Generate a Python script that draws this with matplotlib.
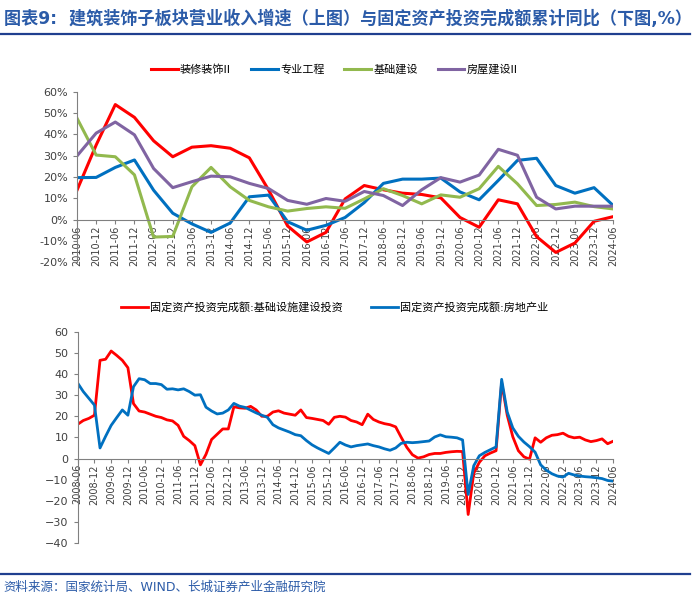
import matplotlib
matplotlib.use('Agg')
import matplotlib.pyplot as plt
from matplotlib.lines import Line2D
import numpy as np
import pandas as pd

plt.rcParams['font.family'] = ['DejaVu Sans', 'Noto Sans CJK SC']

# ---- top chart: half-year revenue growth (%) ----
top_labels = ['2010-06', '2010-12', '2011-06', '2011-12', '2012-06', '2012-12',
              '2013-06', '2013-12', '2014-06', '2014-12', '2015-06', '2015-12',
              '2016-06', '2016-12', '2017-06', '2017-12', '2018-06', '2018-12',
              '2019-06', '2019-12', '2020-06', '2020-12', '2021-06', '2021-12',
              '2022-06', '2022-12', '2023-06', '2023-12', '2024-06']
zhuangxiu = [13.8, 35, 54, 48, 37, 29.5, 34, 34.7, 33.5, 29, 14, -3, -10.5, -6, 9.7,
             16, 14, 12.4, 11.8, 10.2, 1, -3.6, 9.3, 7.4, -8, -15.4, -11, -0.8, 1.4]
zhuanye = [19.7, 19.8, 24.5, 28, 13.8, 3, -2, -6, -1.6, 10.7, 11.5, -1, -5, -2.7, 1,
           8, 17, 19, 19, 19.5, 13, 9.3, 18.4, 27.8, 28.8, 16, 12.4, 15, 6.6]
jichu = [47.6, 30.3, 29.5, 21, -8.2, -7.9, 15.4, 24.5, 15.4, 9, 6, 4, 5.2, 6, 5.3,
         9.7, 14.5, 11.3, 7.4, 11.6, 10.5, 14.5, 25, 16.8, 6.6, 7.1, 8.2, 6.1, 5]
fangwu = [29.9, 40.6, 45.8, 39.8, 24, 15, 17.8, 20.4, 20.1, 17, 14.6, 9, 7.2, 9.9, 8.6,
          13.2, 11.3, 6.6, 14, 19.7, 17.6, 20.9, 33, 30.2, 10.5, 5, 6.3, 6.3, 6.3]

# ---- bottom chart: FAI cumulative yoy, read every two months ----
bot_dates = pd.date_range('2008-06-01', '2024-06-01', freq='2MS')
infra = [16.2, 18, 19, 20.5, 46.5, 47, 50.9, 48.8, 46.5, 43,            # 2008-06 .. 2009-12
         26, 22.5, 22, 21, 20, 19.4,                                    # 2010
         18.3, 17.8, 15.7, 10.5, 8.5, 6.1,                              # 2011
         -3, 2, 9, 11.5, 14, 14,                                        # 2012
         24.5, 24, 23.8, 24.7, 23, 20,                                  # 2013
         20, 22, 22.6, 21.5, 21, 20.5,                                  # 2014
         23, 19.4, 19, 18.5, 18, 16.2,                                  # 2015
         19.5, 20, 19.6, 18, 17.3, 16,                                  # 2016
         21, 18.5, 17.3, 16.5, 16, 15,                                  # 2017
         10, 5.3, 1.8, 0.2, 0.8, 1.9,                                   # 2018
         2.4, 2.4, 2.9, 3.2, 3.4, 3.3,                                  # 2019
         -26.5, -7, -1.8, 1.3, 2.6, 3.7,                                # 2020
         36, 20.5, 10.3, 3.7, 0.8, -0.3,                                # 2021
         9.8, 7.7, 9.8, 11, 11.3, 12,                                   # 2022
         10.5, 9.8, 10.1, 8.8, 8, 8.5,                                  # 2023
         9.3, 7, 8.2]                                                   # 2024
realty = [35.7, 31.7, 28.5, 25.3, 5, 10.5, 15.7, 19.4, 23, 20.5,
          34, 37.8, 37.3, 35.5, 35.5, 35,
          32.8, 33, 32.5, 33, 31.7, 30,
          30.2, 24.3, 22.5, 21.1, 21.5, 23,
          26.1, 24.8, 24.2, 22.9, 21.6, 20.5,
          19.5, 16, 14.5, 13.5, 12.5, 11.3,
          10.8, 8.5, 6.5, 5, 3.7, 2.4,
          5, 7.7, 6.4, 5.5, 6.1, 6.5,
          6.9, 6.1, 5.5, 4.6, 3.9, 5,
          7.2, 7.7, 7.5, 7.7, 8, 8.3,
          10.2, 11.2, 10.3, 10.1, 9.8, 8.8,
          -17, -3.4, 1.3, 2.9, 4.2, 5.5,
          37.5, 22, 14.5, 10.5, 7.8, 5.6,
          3, -3, -5.5, -7.2, -8.3, -8.8,
          -7, -7.8, -8.3, -8.6, -8.8, -9.1,
          -9.5, -10.4, -10.7]
bot_ticks = pd.date_range('2008-06-01', '2024-06-01', freq='6MS')

title_color = '#2B5BA8'
rule_color = '#1F3F8F'
axis_color = '#808080'
tick_color = '#404040'

fig = plt.figure(figsize=(7, 6), dpi=100)

fig.text(0.005, 0.968, '图表9:  建筑装饰子板块营业收入增速（上图）与固定资产投资完成额累计同比（下图,%）',
         color=title_color, fontsize=12.3, fontweight='bold', va='center', ha='left')
fig.add_artist(Line2D([0, 0.985], [0.943, 0.943], color=rule_color, lw=1.6,
                      transform=fig.transFigure))
fig.add_artist(Line2D([0, 0.985], [0.043, 0.043], color=rule_color, lw=1.6,
                      transform=fig.transFigure))
fig.text(0.005, 0.022, '资料来源：国家统计局、WIND、长城证券产业金融研究院',
         color=title_color, fontsize=9, va='center', ha='left')


def style_axes(ax):
    for s in ['top', 'right']:
        ax.spines[s].set_visible(False)
    ax.spines['left'].set_color(axis_color)
    ax.spines['bottom'].set_color(axis_color)
    ax.spines['bottom'].set_position(('data', 0))
    ax.tick_params(axis='y', colors=axis_color, labelcolor=tick_color,
                   labelsize=8, length=3, direction='out')
    ax.tick_params(axis='x', colors=axis_color, labelcolor=tick_color,
                   labelsize=7, length=3, direction='out', pad=1, labelrotation=90)


# top
ax1 = fig.add_axes([0.110, 0.563, 0.766, 0.284])
x = np.arange(len(top_labels))
ax1.plot(x, zhuangxiu, color='#FF0000', lw=2.2, label='装修装饰II')
ax1.plot(x, zhuanye, color='#0070C0', lw=2.2, label='专业工程')
ax1.plot(x, jichu, color='#92B94E', lw=2.2, label='基础建设')
ax1.plot(x, fangwu, color='#8064A2', lw=2.2, label='房屋建设II')
ax1.set_xlim(0, len(top_labels) - 1)
ax1.set_ylim(-20, 60)
ax1.set_yticks(range(-20, 61, 10))
ax1.set_yticklabels(['{}%'.format(v) for v in range(-20, 61, 10)])
ax1.set_xticks(x)
ax1.set_xticklabels(top_labels)
style_axes(ax1)
ax1.legend(loc='center', bbox_to_anchor=(0.48, 1.13), ncol=4, frameon=False,
           fontsize=8, handlelength=2.4, handletextpad=0.2, columnspacing=1.8)

# bottom
ax2 = fig.add_axes([0.111, 0.095, 0.765, 0.352])
months = (bot_dates.year - 2008) * 12 + bot_dates.month - 6
ax2.plot(months, infra, color='#FF0000', lw=2.0, label='固定资产投资完成额:基础设施建设投资')
ax2.plot(months, realty, color='#0070C0', lw=2.0, label='固定资产投资完成额:房地产业')
tick_m = (bot_ticks.year - 2008) * 12 + bot_ticks.month - 6
ax2.set_xlim(0, 192)
ax2.set_ylim(-40, 60)
ax2.set_yticks(range(-40, 61, 10))
ax2.set_xticks(tick_m)
ax2.set_xticklabels([d.strftime('%Y-%m') for d in bot_ticks])
style_axes(ax2)
ax2.legend(loc='center', bbox_to_anchor=(0.48, 1.115), ncol=2, frameon=False,
           fontsize=8, handlelength=2.4, handletextpad=0.2, columnspacing=2.6)

fig.savefig('out.png', dpi=100)
